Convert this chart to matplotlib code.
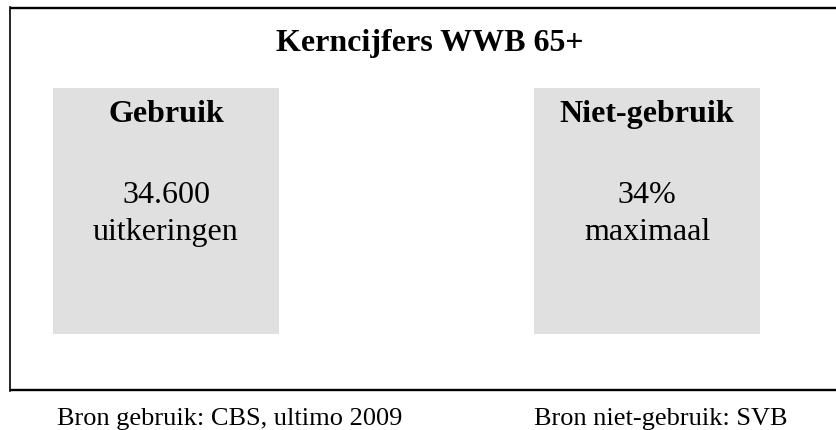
import matplotlib
matplotlib.use("Agg")
import matplotlib.pyplot as plt
from matplotlib.patches import Rectangle

title = "Kerncijfers WWB 65+"
categories = ["Gebruik", "Niet-gebruik"]
values = ["34.600", "34%"]
units = ["uitkeringen", "maximaal"]
sources = ["Bron gebruik: CBS, ultimo 2009", "Bron niet-gebruik: SVB"]

plt.rcParams['font.family'] = ['Liberation Serif', 'DejaVu Serif']

W, H = 837, 431
fig = plt.figure(figsize=(W / 100, H / 100), dpi=100)
ax = fig.add_axes([0, 0, 1, 1])
ax.set_xlim(0, W)
ax.set_ylim(H, 0)
ax.axis('off')

# outer frame (top, left, bottom lines; right side open)
ax.plot([10, W], [8.5, 8.5], color='black', lw=1.7, solid_capstyle='butt')
ax.plot([10.5, 10.5], [8, 392], color='black', lw=1.2)
ax.plot([10, W], [391.5, 391.5], color='black', lw=1.7, solid_capstyle='butt')

ax.text(429.5, 51, title, ha='center', va='baseline', fontsize=23, fontweight='bold')

box_x = [53, 534]
box_w = 226
for i, cat in enumerate(categories):
    x0 = box_x[i]
    ax.add_patch(Rectangle((x0, 89), box_w, 246, facecolor='#e0e0e0', edgecolor='none'))
    cx = x0 + box_w / 2
    ax.text(cx, 122, cat, ha='center', va='baseline', fontsize=23, fontweight='bold')
    ax.text(cx, 203, values[i], ha='center', va='baseline', fontsize=23)
    ax.text(cx, 240, units[i], ha='center', va='baseline', fontsize=23)

src_x = [57, 534]
for i, s in enumerate(sources):
    ax.text(src_x[i], 425, s, ha='left', va='baseline', fontsize=19)

fig.savefig("out.png", dpi=100)
